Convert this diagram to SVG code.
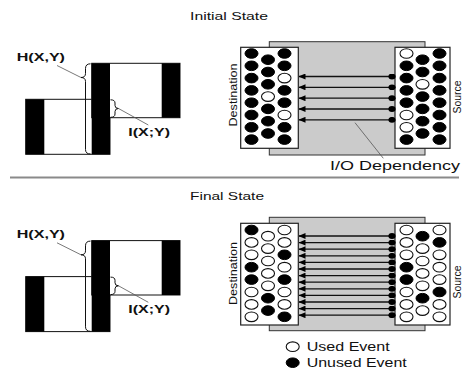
<svg xmlns="http://www.w3.org/2000/svg" width="462" height="370" viewBox="0 0 462 370">
<style>
text{font-family:"Liberation Sans",Arial,sans-serif;fill:#111}
.title{font-size:11px}
.lbl{font-size:11.5px;font-weight:bold}
.side{font-size:11px}
.big{font-size:13px}
.blk{fill:#000}
.out{fill:#fff;stroke:#111;stroke-width:1}
.brace{fill:none;stroke:#111;stroke-width:1}
.lead{stroke:#555;stroke-width:0.8;fill:none}
.gray{fill:#cbcbcb;stroke:#333;stroke-width:1}
.box{fill:#fff;stroke:#222;stroke-width:1.2}
.b{fill:#000;stroke:#000;stroke-width:1}
.h{fill:#fff;stroke:#111;stroke-width:1.1}
.arr{stroke:#111;stroke-width:1.3;marker-start:url(#dot);marker-end:url(#tri)}
</style>
<defs>
<marker id="tri" viewBox="0 0 7 6" refX="6.5" refY="3" markerWidth="7" markerHeight="6" markerUnits="userSpaceOnUse" orient="auto">
<path d="M0,0 L7,3 L0,6 Z" fill="#000"/>
</marker>
<marker id="dot" viewBox="0 0 8 6" refX="4" refY="3" markerWidth="8" markerHeight="6" markerUnits="userSpaceOnUse" orient="auto">
<ellipse cx="4" cy="3" rx="3.6" ry="2.9" fill="#000"/>
</marker>
<g id="venn">
<rect class="out" x="25.7" y="99.3" width="84.3" height="55"/>
<rect class="blk" x="25.7" y="99.3" width="18.6" height="55"/>
<rect class="out" x="91.7" y="63.3" width="88.3" height="54.4"/>
<rect class="blk" x="161.7" y="63.3" width="18.3" height="54.4"/>
<rect class="blk" x="91.7" y="63.3" width="18.3" height="91"/>
<path class="brace" d="M90.5,63.8 Q85.5,63.8 85.5,68.5 L85.5,73.5 Q85.5,77.5 81,77.5 Q85.5,77.5 85.5,81.5 L85.5,149.5 Q85.5,154 90.5,154"/>
<line class="lead" x1="57" y1="65.5" x2="81" y2="77.5"/>
<path class="brace" d="M110.5,99.8 Q115,99.8 115,103 L115,105.5 Q115,108.5 118.5,108.5 Q115,108.5 115,111.5 L115,114 Q115,117.3 110.5,117.3"/>
<line class="lead" x1="118.5" y1="108.5" x2="148.3" y2="125"/>
<text class="lbl" x="16.7" y="61" textLength="48.3" lengthAdjust="spacingAndGlyphs">H(X,Y)</text>
<text class="lbl" x="128.3" y="136" textLength="41.7" lengthAdjust="spacingAndGlyphs">I(X;Y)</text>
</g>
</defs>

<text class="title" x="190" y="19.5" textLength="78" lengthAdjust="spacingAndGlyphs">Initial State</text>
<text class="title" x="190" y="199.5" textLength="74" lengthAdjust="spacingAndGlyphs">Final State</text>
<line x1="10" y1="177.5" x2="459" y2="177.5" stroke="#8a8a8a" stroke-width="2"/>

<g id="initial-entropy"><use href="#venn"/></g>
<g id="final-entropy"><use href="#venn" transform="translate(0,177.3)"/></g>

<g id="initial-channel">
<rect class="gray" x="269.3" y="41.7" width="155.7" height="113.3"/>
</g>
<g id="initial-destination">
<rect class="box" x="240.7" y="47.3" width="57.6" height="101"/>
<g>
<ellipse class="b" cx="251.5" cy="53.5" rx="6.5" ry="4.8"/>
<ellipse class="b" cx="251.5" cy="65.8" rx="6.5" ry="4.8"/>
<ellipse class="b" cx="251.5" cy="78.1" rx="6.5" ry="4.8"/>
<ellipse class="b" cx="251.5" cy="90.4" rx="6.5" ry="4.8"/>
<ellipse class="b" cx="251.5" cy="102.7" rx="6.5" ry="4.8"/>
<ellipse class="b" cx="251.5" cy="115" rx="6.5" ry="4.8"/>
<ellipse class="b" cx="251.5" cy="127.3" rx="6.5" ry="4.8"/>
<ellipse class="b" cx="251.5" cy="139.6" rx="6.5" ry="4.8"/>
<ellipse class="b" cx="268" cy="59.7" rx="6.5" ry="4.8"/>
<ellipse class="b" cx="268" cy="72" rx="6.5" ry="4.8"/>
<ellipse class="b" cx="268" cy="84.3" rx="6.5" ry="4.8"/>
<ellipse class="h" cx="268" cy="96.6" rx="6.5" ry="4.8"/>
<ellipse class="b" cx="268" cy="108.9" rx="6.5" ry="4.8"/>
<ellipse class="b" cx="268" cy="121.2" rx="6.5" ry="4.8"/>
<ellipse class="b" cx="268" cy="133.5" rx="6.5" ry="4.8"/>
<ellipse class="b" cx="284.5" cy="53.5" rx="6.5" ry="4.8"/>
<ellipse class="b" cx="284.5" cy="65.8" rx="6.5" ry="4.8"/>
<ellipse class="h" cx="284.5" cy="78.1" rx="6.5" ry="4.8"/>
<ellipse class="b" cx="284.5" cy="90.4" rx="6.5" ry="4.8"/>
<ellipse class="b" cx="284.5" cy="102.7" rx="6.5" ry="4.8"/>
<ellipse class="h" cx="284.5" cy="115" rx="6.5" ry="4.8"/>
<ellipse class="b" cx="284.5" cy="127.3" rx="6.5" ry="4.8"/>
<ellipse class="b" cx="284.5" cy="139.6" rx="6.5" ry="4.8"/>
</g>
<text class="side" transform="translate(237,95) rotate(-90)" text-anchor="middle" textLength="63" lengthAdjust="spacingAndGlyphs">Destination</text>
</g>
<g id="initial-source">
<rect class="box" x="395" y="47.3" width="55" height="101"/>
<g>
<ellipse class="h" cx="406.5" cy="53.5" rx="6.5" ry="4.8"/>
<ellipse class="b" cx="406.5" cy="65.8" rx="6.5" ry="4.8"/>
<ellipse class="b" cx="406.5" cy="78.1" rx="6.5" ry="4.8"/>
<ellipse class="b" cx="406.5" cy="90.4" rx="6.5" ry="4.8"/>
<ellipse class="b" cx="406.5" cy="102.7" rx="6.5" ry="4.8"/>
<ellipse class="h" cx="406.5" cy="115" rx="6.5" ry="4.8"/>
<ellipse class="h" cx="406.5" cy="127.3" rx="6.5" ry="4.8"/>
<ellipse class="b" cx="406.5" cy="139.6" rx="6.5" ry="4.8"/>
<ellipse class="b" cx="422.5" cy="59.7" rx="6.5" ry="4.8"/>
<ellipse class="b" cx="422.5" cy="72" rx="6.5" ry="4.8"/>
<ellipse class="h" cx="422.5" cy="84.3" rx="6.5" ry="4.8"/>
<ellipse class="b" cx="422.5" cy="96.6" rx="6.5" ry="4.8"/>
<ellipse class="b" cx="422.5" cy="108.9" rx="6.5" ry="4.8"/>
<ellipse class="b" cx="422.5" cy="121.2" rx="6.5" ry="4.8"/>
<ellipse class="b" cx="422.5" cy="133.5" rx="6.5" ry="4.8"/>
<ellipse class="b" cx="439.5" cy="53.5" rx="6.5" ry="4.8"/>
<ellipse class="b" cx="439.5" cy="65.8" rx="6.5" ry="4.8"/>
<ellipse class="b" cx="439.5" cy="78.1" rx="6.5" ry="4.8"/>
<ellipse class="b" cx="439.5" cy="90.4" rx="6.5" ry="4.8"/>
<ellipse class="b" cx="439.5" cy="102.7" rx="6.5" ry="4.8"/>
<ellipse class="b" cx="439.5" cy="115" rx="6.5" ry="4.8"/>
<ellipse class="b" cx="439.5" cy="127.3" rx="6.5" ry="4.8"/>
<ellipse class="b" cx="439.5" cy="139.6" rx="6.5" ry="4.8"/>
</g>
<text class="side" transform="translate(461,97) rotate(-90)" text-anchor="middle" textLength="33" lengthAdjust="spacingAndGlyphs">Source</text>
</g>

<g id="final-channel">
<rect class="gray" x="269.3" y="217.3" width="155.7" height="113.4"/>
</g>
<g id="final-destination">
<rect class="box" x="240.7" y="223.3" width="57.6" height="101.7"/>
<g>
<ellipse class="b" cx="251.5" cy="230" rx="6.5" ry="4.8"/>
<ellipse class="h" cx="251.5" cy="242.4" rx="6.5" ry="4.8"/>
<ellipse class="h" cx="251.5" cy="254.8" rx="6.5" ry="4.8"/>
<ellipse class="b" cx="251.5" cy="267.2" rx="6.5" ry="4.8"/>
<ellipse class="b" cx="251.5" cy="279.6" rx="6.5" ry="4.8"/>
<ellipse class="h" cx="251.5" cy="292" rx="6.5" ry="4.8"/>
<ellipse class="h" cx="251.5" cy="304.4" rx="6.5" ry="4.8"/>
<ellipse class="h" cx="251.5" cy="316.8" rx="6.5" ry="4.8"/>
<ellipse class="h" cx="268" cy="236.2" rx="6.5" ry="4.8"/>
<ellipse class="h" cx="268" cy="248.6" rx="6.5" ry="4.8"/>
<ellipse class="h" cx="268" cy="261" rx="6.5" ry="4.8"/>
<ellipse class="h" cx="268" cy="273.4" rx="6.5" ry="4.8"/>
<ellipse class="h" cx="268" cy="285.8" rx="6.5" ry="4.8"/>
<ellipse class="b" cx="268" cy="298.2" rx="6.5" ry="4.8"/>
<ellipse class="b" cx="268" cy="310.6" rx="6.5" ry="4.8"/>
<ellipse class="h" cx="284.5" cy="230" rx="6.5" ry="4.8"/>
<ellipse class="h" cx="284.5" cy="242.4" rx="6.5" ry="4.8"/>
<ellipse class="b" cx="284.5" cy="254.8" rx="6.5" ry="4.8"/>
<ellipse class="h" cx="284.5" cy="267.2" rx="6.5" ry="4.8"/>
<ellipse class="b" cx="284.5" cy="279.6" rx="6.5" ry="4.8"/>
<ellipse class="h" cx="284.5" cy="292" rx="6.5" ry="4.8"/>
<ellipse class="h" cx="284.5" cy="304.4" rx="6.5" ry="4.8"/>
<ellipse class="b" cx="284.5" cy="316.8" rx="6.5" ry="4.8"/>
</g>
<text class="side" transform="translate(237,273.5) rotate(-90)" text-anchor="middle" textLength="63" lengthAdjust="spacingAndGlyphs">Destination</text>
</g>
<g id="final-source">
<rect class="box" x="395" y="223.3" width="55" height="101.7"/>
<g>
<ellipse class="h" cx="406.5" cy="230" rx="6.5" ry="4.8"/>
<ellipse class="h" cx="406.5" cy="242.4" rx="6.5" ry="4.8"/>
<ellipse class="h" cx="406.5" cy="254.8" rx="6.5" ry="4.8"/>
<ellipse class="b" cx="406.5" cy="267.2" rx="6.5" ry="4.8"/>
<ellipse class="b" cx="406.5" cy="279.6" rx="6.5" ry="4.8"/>
<ellipse class="h" cx="406.5" cy="292" rx="6.5" ry="4.8"/>
<ellipse class="h" cx="406.5" cy="304.4" rx="6.5" ry="4.8"/>
<ellipse class="h" cx="406.5" cy="316.8" rx="6.5" ry="4.8"/>
<ellipse class="b" cx="422.5" cy="236.2" rx="6.5" ry="4.8"/>
<ellipse class="h" cx="422.5" cy="248.6" rx="6.5" ry="4.8"/>
<ellipse class="h" cx="422.5" cy="261" rx="6.5" ry="4.8"/>
<ellipse class="h" cx="422.5" cy="273.4" rx="6.5" ry="4.8"/>
<ellipse class="h" cx="422.5" cy="285.8" rx="6.5" ry="4.8"/>
<ellipse class="b" cx="422.5" cy="298.2" rx="6.5" ry="4.8"/>
<ellipse class="h" cx="422.5" cy="310.6" rx="6.5" ry="4.8"/>
<ellipse class="h" cx="439.5" cy="230" rx="6.5" ry="4.8"/>
<ellipse class="b" cx="439.5" cy="242.4" rx="6.5" ry="4.8"/>
<ellipse class="h" cx="439.5" cy="254.8" rx="6.5" ry="4.8"/>
<ellipse class="h" cx="439.5" cy="267.2" rx="6.5" ry="4.8"/>
<ellipse class="h" cx="439.5" cy="279.6" rx="6.5" ry="4.8"/>
<ellipse class="b" cx="439.5" cy="292" rx="6.5" ry="4.8"/>
<ellipse class="h" cx="439.5" cy="304.4" rx="6.5" ry="4.8"/>
<ellipse class="h" cx="439.5" cy="316.8" rx="6.5" ry="4.8"/>
</g>
<text class="side" transform="translate(461,282) rotate(-90)" text-anchor="middle" textLength="33" lengthAdjust="spacingAndGlyphs">Source</text>
</g>

<g id="connectors">
<line class="arr" x1="392" y1="76.5" x2="299" y2="76.5"/>
<line class="arr" x1="392" y1="87.3" x2="299" y2="87.3"/>
<line class="arr" x1="392" y1="98.2" x2="299" y2="98.2"/>
<line class="arr" x1="392" y1="109" x2="299" y2="109"/>
<line class="arr" x1="392" y1="119.8" x2="299" y2="119.8"/>
<line class="arr" x1="392" y1="236" x2="299" y2="236"/>
<line class="arr" x1="392" y1="242.6" x2="299" y2="242.6"/>
<line class="arr" x1="392" y1="249.2" x2="299" y2="249.2"/>
<line class="arr" x1="392" y1="255.8" x2="299" y2="255.8"/>
<line class="arr" x1="392" y1="262.4" x2="299" y2="262.4"/>
<line class="arr" x1="392" y1="269" x2="299" y2="269"/>
<line class="arr" x1="392" y1="275.6" x2="299" y2="275.6"/>
<line class="arr" x1="392" y1="282.2" x2="299" y2="282.2"/>
<line class="arr" x1="392" y1="288.8" x2="299" y2="288.8"/>
<line class="arr" x1="392" y1="295.4" x2="299" y2="295.4"/>
<line class="arr" x1="392" y1="302" x2="299" y2="302"/>
<line class="arr" x1="392" y1="308.6" x2="299" y2="308.6"/>
<line class="arr" x1="392" y1="315.2" x2="299" y2="315.2"/>
<line class="lead" x1="355" y1="122.7" x2="383.3" y2="158.3"/>
</g>

<g id="io-label">
<text class="big" x="330" y="170" textLength="130" lengthAdjust="spacingAndGlyphs">I/O Dependency</text>
</g>

<g id="legend">
<ellipse class="h" cx="292.7" cy="346.7" rx="6.5" ry="4.8"/>
<text class="big" x="306.7" y="351" textLength="83" lengthAdjust="spacingAndGlyphs">Used Event</text>
<ellipse class="b" cx="292.7" cy="362.7" rx="6.5" ry="4.8"/>
<text class="big" x="306.7" y="367" textLength="100" lengthAdjust="spacingAndGlyphs">Unused Event</text>
</g>
</svg>
